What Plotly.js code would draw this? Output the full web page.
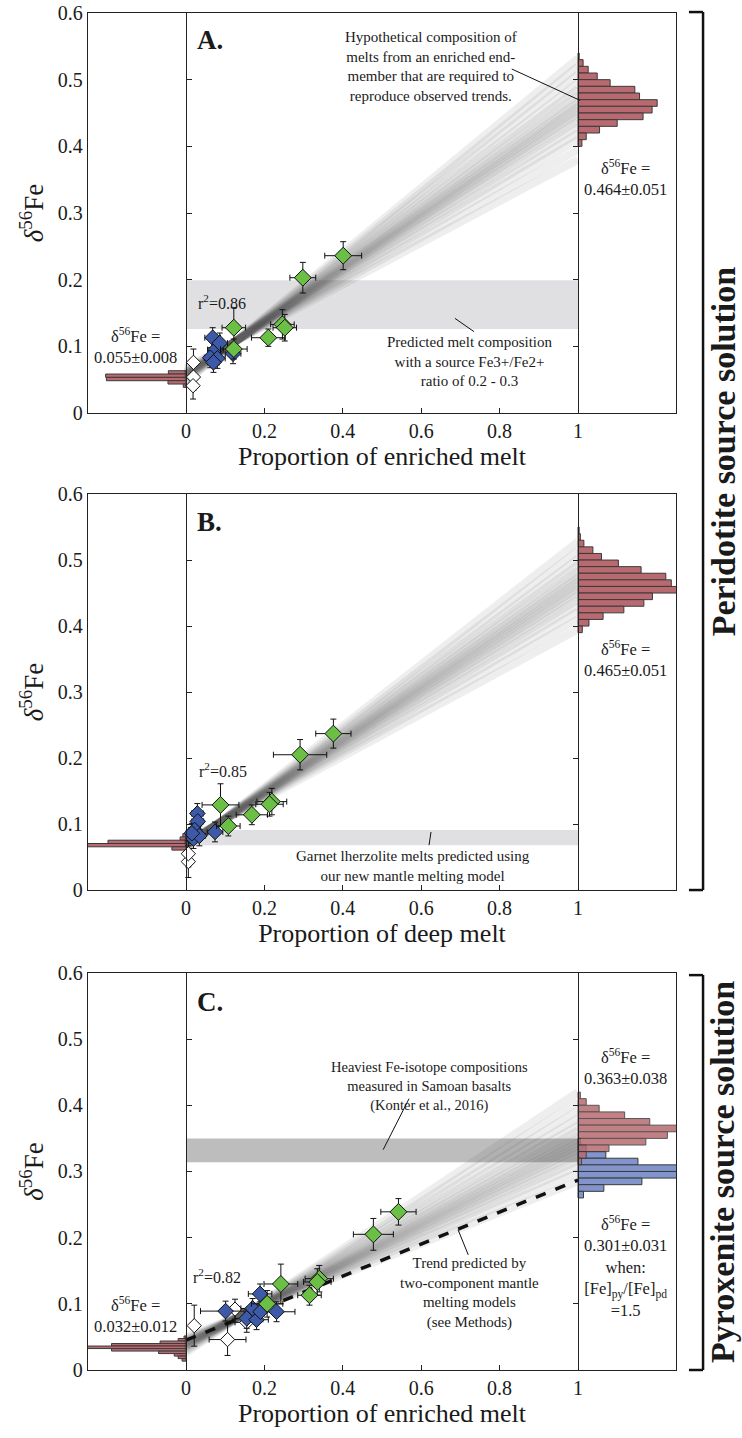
<!DOCTYPE html>
<html>
<head>
<meta charset="utf-8">
<script src="https://cdn.plot.ly/plotly-3.0.1.min.js"></script>
<style>html,body{margin:0;padding:0;background:#fff}</style>
</head>
<body>
<div id="chart" style="width:742px;height:1438px"></div>
<script>
// ---- panel A : proportion of enriched melt (peridotite source) ----
const greenA_x  = [0.401, 0.298, 0.122, 0.246, 0.252, 0.210, 0.122];
const greenA_y  = [0.236, 0.203, 0.128, 0.133, 0.128, 0.113, 0.096];
const greenA_ex = [0.047, 0.033, 0.030, 0.030, 0.030, 0.043, 0.034];
const greenA_ey = [0.021, 0.023, 0.030, 0.022, 0.020, 0.013, 0.015];
const blueA_x  = [0.068, 0.075, 0.086, 0.062, 0.080, 0.070, 0.120];
const blueA_y  = [0.113, 0.095, 0.105, 0.083, 0.082, 0.076, 0.089];
const blueA_ex = [0.020, 0.020, 0.020, 0.015, 0.020, 0.015, 0.020];
const blueA_ey = [0.015, 0.015, 0.015, 0.015, 0.015, 0.015, 0.015];
const whiteA_x  = [0.019, 0.019, 0.018];
const whiteA_y  = [0.076, 0.054, 0.041];
const whiteA_ex = [0.010, 0.010, 0.010];
const whiteA_ey = [0.020, 0.020, 0.020];
const fanA_start = [0.068, 0.066, 0.063, 0.062, 0.061, 0.060, 0.059, 0.058, 0.057, 0.057, 0.056, 0.055, 0.054, 0.053, 0.052, 0.050, 0.048, 0.047];
const fanA_end   = [0.380, 0.395, 0.410, 0.420, 0.430, 0.438, 0.445, 0.450, 0.455, 0.460, 0.465, 0.470, 0.478, 0.486, 0.495, 0.508, 0.520, 0.532];
const histA_right_y   = [0.535, 0.525, 0.515, 0.505, 0.495, 0.485, 0.475, 0.465, 0.455, 0.445, 0.435, 0.425, 0.415, 0.405];
const histA_right_len = [0.003, 0.013, 0.026, 0.049, 0.082, 0.145, 0.157, 0.202, 0.189, 0.166, 0.100, 0.055, 0.021, 0.010];
const histA_left_y   = [0.061, 0.056, 0.051, 0.046, 0.041];
const histA_left_len = [0.045, 0.205, 0.203, 0.046, 0.007];
const bandA = [0.126, 0.199];

// ---- panel B : proportion of deep melt ----
const greenB_x  = [0.376, 0.291, 0.088, 0.219, 0.213, 0.168, 0.108];
const greenB_y  = [0.237, 0.205, 0.129, 0.134, 0.130, 0.114, 0.097];
const greenB_ex = [0.045, 0.068, 0.047, 0.038, 0.035, 0.040, 0.030];
const greenB_ey = [0.022, 0.023, 0.032, 0.020, 0.018, 0.015, 0.015];
const blueB_x  = [0.029, 0.030, 0.074, 0.019, 0.022, 0.034, 0.015];
const blueB_y  = [0.116, 0.104, 0.088, 0.078, 0.091, 0.082, 0.086];
const blueB_ex = [0.015, 0.015, 0.020, 0.015, 0.015, 0.015, 0.015];
const blueB_ey = [0.015, 0.015, 0.015, 0.015, 0.015, 0.015, 0.015];
const whiteB_x  = [0.006, 0.006];
const whiteB_y  = [0.043, 0.055];
const whiteB_ex = [0.008, 0.008];
const whiteB_ey = [0.024, 0.020];
const fanB_start = [0.074, 0.073, 0.072, 0.071, 0.070, 0.070, 0.069, 0.069, 0.068, 0.068, 0.068, 0.067, 0.067, 0.066, 0.065, 0.064, 0.063];
const fanB_end   = [0.395, 0.410, 0.422, 0.432, 0.440, 0.447, 0.453, 0.458, 0.463, 0.468, 0.473, 0.478, 0.485, 0.493, 0.502, 0.514, 0.528];
const histB_right_y   = [0.545, 0.535, 0.525, 0.515, 0.505, 0.495, 0.485, 0.475, 0.465, 0.455, 0.445, 0.435, 0.425, 0.415, 0.405, 0.395];
const histB_right_len = [0.003, 0.006, 0.015, 0.038, 0.060, 0.103, 0.161, 0.224, 0.238, 0.260, 0.190, 0.168, 0.117, 0.064, 0.028, 0.011];
const histB_left_y   = [0.083, 0.078, 0.073, 0.068, 0.063];
const histB_left_len = [0.008, 0.015, 0.199, 0.260, 0.036];
const bandB = [0.068, 0.091];

// ---- panel C : proportion of enriched melt (pyroxenite source) ----
const greenC_x  = [0.542, 0.478, 0.242, 0.340, 0.335, 0.315, 0.207];
const greenC_y  = [0.239, 0.205, 0.130, 0.138, 0.133, 0.113, 0.100];
const greenC_ex = [0.045, 0.051, 0.043, 0.036, 0.035, 0.030, 0.040];
const greenC_ey = [0.020, 0.024, 0.030, 0.020, 0.020, 0.015, 0.020];
const blueC_x  = [0.101, 0.189, 0.231, 0.155, 0.180, 0.170, 0.190];
const blueC_y  = [0.089, 0.115, 0.088, 0.078, 0.076, 0.093, 0.088];
const blueC_ex = [0.064, 0.030, 0.047, 0.030, 0.030, 0.030, 0.030];
const blueC_ey = [0.015, 0.015, 0.015, 0.015, 0.015, 0.015, 0.015];
const whiteC_x  = [0.021, 0.106, 0.125, 0.155];
const whiteC_y  = [0.067, 0.046, 0.092, 0.072];
const whiteC_ex = [0.010, 0.047, 0.030, 0.030];
const whiteC_ey = [0.031, 0.024, 0.015, 0.015];
const fanC_start = [0.050, 0.047, 0.046, 0.044, 0.043, 0.042, 0.041, 0.040, 0.039, 0.038, 0.037, 0.036, 0.035, 0.033, 0.031, 0.029, 0.026];
const fanC_end   = [0.285, 0.298, 0.308, 0.316, 0.323, 0.329, 0.334, 0.339, 0.344, 0.349, 0.355, 0.362, 0.370, 0.380, 0.392, 0.405, 0.420];
const trendC_x = [0, 1];
const trendC_y = [0.045, 0.287];
const histC_red_y    = [0.415, 0.405, 0.395, 0.385, 0.375, 0.365, 0.355, 0.345, 0.335, 0.325, 0.315];
const histC_red_len  = [0.006, 0.021, 0.054, 0.119, 0.183, 0.260, 0.228, 0.173, 0.079, 0.021, 0.009];
const histC_blue_y   = [0.345, 0.335, 0.325, 0.315, 0.305, 0.295, 0.285, 0.275, 0.265];
const histC_blue_len = [0.006, 0.021, 0.071, 0.153, 0.260, 0.260, 0.163, 0.066, 0.014];
const histC_left_y   = [0.0495, 0.0457, 0.0419, 0.0381, 0.0343, 0.0305, 0.0267, 0.0229, 0.0191, 0.0153];
const histC_left_len = [0.005, 0.020, 0.066, 0.190, 0.260, 0.190, 0.070, 0.030, 0.020, 0.010];
const bandC = [0.314, 0.350];

const xTickVals = [0, 0.2, 0.4, 0.6, 0.8, 1];
const xTickText = ['0', '0.2', '0.4', '0.6', '0.8', '1'];
const yTickVals = [0, 0.1, 0.2, 0.3, 0.4, 0.5, 0.6];
const yTickText = ['0', '0.1', '0.2', '0.3', '0.4', '0.5', '0.6'];

const SERIF = "'Liberation Serif', 'Times New Roman', serif";
const RED = '#b86a70';
const BLUE = '#8195cc';
const GREEN = '#6cbf45';
const DBLUE = '#3c5aa8';

let traces = [];

function fan(xa, ya, starts, ends) {
    for (let i = 0; i < starts.length; ++i) {
        traces.push({
            type: 'scatter', mode: 'lines', x: [0, 1], y: [starts[i], ends[i]],
            xaxis: xa, yaxis: ya, line: {color: 'rgba(60,60,60,0.085)', width: 8},
            hoverinfo: 'skip', showlegend: false
        });
    }
}

function hbars(xa, ya, ys, lens, base, sign, color, width, opacity) {
    traces.push({
        type: 'bar', orientation: 'h', y: ys, x: lens.map(v => sign * v), base: base,
        width: width, opacity: opacity,
        marker: {color: color, line: {color: '#3a3a3a', width: 1}},
        xaxis: xa, yaxis: ya, hoverinfo: 'skip', showlegend: false
    });
}

function points(xa, ya, xs, ys, ex, ey, fill, size) {
    traces.push({
        type: 'scatter', mode: 'markers', x: xs, y: ys, xaxis: xa, yaxis: ya,
        marker: {symbol: 'diamond', size: size, color: fill, line: {color: '#111', width: 1}},
        error_x: {type: 'data', array: ex, color: '#111', thickness: 1, width: 3},
        error_y: {type: 'data', array: ey, color: '#111', thickness: 1, width: 3},
        hoverinfo: 'skip', showlegend: false
    });
}

// panel A
fan('x', 'y', fanA_start, fanA_end);
hbars('x', 'y', histA_right_y, histA_right_len, 1, 1, RED, 0.01, 1);
hbars('x', 'y', histA_left_y, histA_left_len, 0, -1, RED, 0.005, 1);
points('x', 'y', whiteA_x, whiteA_y, whiteA_ex, whiteA_ey, '#fff', 11);
points('x', 'y', blueA_x, blueA_y, blueA_ex, blueA_ey, DBLUE, 12);
points('x', 'y', greenA_x, greenA_y, greenA_ex, greenA_ey, GREEN, 13);

// panel B
fan('x2', 'y2', fanB_start, fanB_end);
hbars('x2', 'y2', histB_right_y, histB_right_len, 1, 1, RED, 0.01, 1);
hbars('x2', 'y2', histB_left_y, histB_left_len, 0, -1, RED, 0.005, 1);
points('x2', 'y2', whiteB_x, whiteB_y, whiteB_ex, whiteB_ey, '#fff', 11);
points('x2', 'y2', blueB_x, blueB_y, blueB_ex, blueB_ey, DBLUE, 12);
points('x2', 'y2', greenB_x, greenB_y, greenB_ex, greenB_ey, GREEN, 13);

// panel C
fan('x3', 'y3', fanC_start, fanC_end);
hbars('x3', 'y3', histC_blue_y, histC_blue_len, 1, 1, BLUE, 0.01, 1);
hbars('x3', 'y3', histC_red_y, histC_red_len, 1, 1, RED, 0.01, 0.85);
hbars('x3', 'y3', histC_left_y, histC_left_len, 0, -1, RED, 0.0038, 1);
traces.push({
    type: 'scatter', mode: 'lines', x: trendC_x, y: trendC_y, xaxis: 'x3', yaxis: 'y3',
    line: {color: '#111', width: 3.5, dash: 'dash'}, hoverinfo: 'skip', showlegend: false
});
points('x3', 'y3', whiteC_x, whiteC_y, whiteC_ex, whiteC_ey, '#fff', 11);
points('x3', 'y3', blueC_x, blueC_y, blueC_ex, blueC_ey, DBLUE, 12);
points('x3', 'y3', greenC_x, greenC_y, greenC_ex, greenC_ey, GREEN, 13);

// empty traces so the inner axes at x=0 and x=1 get drawn
['y4', 'y5'].forEach(a => traces.push({type: 'scatter', x: [], y: [], xaxis: 'x', yaxis: a, showlegend: false}));
['y6', 'y7'].forEach(a => traces.push({type: 'scatter', x: [], y: [], xaxis: 'x2', yaxis: a, showlegend: false}));
['y8', 'y9'].forEach(a => traces.push({type: 'scatter', x: [], y: [], xaxis: 'x3', yaxis: a, showlegend: false}));

function xAxis(anchor, title) {
    return {
        anchor: anchor, domain: [0, 1], range: [-0.25, 1.25],
        tickvals: xTickVals, ticktext: xTickText, ticks: 'inside', ticklen: 5, tickcolor: '#222',
        showline: true, mirror: true, linecolor: '#222', linewidth: 1.2,
        showgrid: false, zeroline: false, tickfont: {size: 20},
        title: {text: title, font: {size: 26}, standoff: 0}
    };
}

function yAxis(anchor, domain) {
    return {
        anchor: anchor, domain: domain, range: [0, 0.6],
        tickvals: yTickVals, ticktext: yTickText, ticks: '',
        showline: true, mirror: true, linecolor: '#222', linewidth: 1.2,
        showgrid: false, zeroline: false, tickfont: {size: 20},
        title: {text: '<i>δ</i><sup>56</sup>Fe', font: {size: 27}, standoff: 6}
    };
}

function innerAxis(over, side, pos) {
    return {
        overlaying: over, anchor: 'free', position: pos, side: side, range: [0, 0.6],
        tickvals: yTickVals, ticks: 'inside', ticklen: 5, tickcolor: '#222',
        showticklabels: false, showline: true, linecolor: '#222', linewidth: 1.2,
        showgrid: false, zeroline: false
    };
}

function note(xa, ya, x, y, text, size, extra) {
    return Object.assign({
        xref: xa, yref: ya, x: x, y: y, text: text, showarrow: false,
        xanchor: 'center', yanchor: 'middle',
        font: {size: size, color: '#1a1a1a'}, align: 'center'
    }, extra || {});
}

function band(xa, ya, yy, color) {
    return {type: 'rect', xref: xa, yref: ya, x0: 0, x1: 1, y0: yy[0], y1: yy[1],
            fillcolor: color, line: {width: 0}, layer: 'below'};
}

function pointer(xa, ya, x0, y0, x1, y1) {
    return {type: 'line', xref: xa, yref: ya, x0: x0, y0: y0, x1: x1, y1: y1,
            line: {color: '#111', width: 1}};
}

function bracket(yBottom, yTop) {
    return [
        {type: 'line', xref: 'paper', yref: 'paper', x0: 1.046, x1: 1.046, y0: yBottom, y1: yTop, line: {color: '#111', width: 2.5}},
        {type: 'line', xref: 'paper', yref: 'paper', x0: 1.022, x1: 1.046, y0: yTop, y1: yTop, line: {color: '#111', width: 2.5}},
        {type: 'line', xref: 'paper', yref: 'paper', x0: 1.022, x1: 1.046, y0: yBottom, y1: yBottom, line: {color: '#111', width: 2.5}}
    ];
}

const dA = [0.7052, 1.0];
const dB = [0.3537, 0.6455];
const dC = [0.0, 0.2926];

const layout = {
    width: 742, height: 1438,
    margin: {l: 88, r: 66, t: 13, b: 68},
    paper_bgcolor: '#fff', plot_bgcolor: '#fff',
    font: {family: SERIF, color: '#1a1a1a'},
    barmode: 'overlay', showlegend: false,
    xaxis: xAxis('y', 'Proportion of enriched melt'),
    yaxis: yAxis('x', dA),
    xaxis2: xAxis('y2', 'Proportion of deep melt'),
    yaxis2: yAxis('x2', dB),
    xaxis3: xAxis('y3', 'Proportion of enriched melt'),
    yaxis3: yAxis('x3', dC),
    yaxis4: innerAxis('y', 'left', 1 / 6),
    yaxis5: innerAxis('y', 'right', 5 / 6),
    yaxis6: innerAxis('y2', 'left', 1 / 6),
    yaxis7: innerAxis('y2', 'right', 5 / 6),
    yaxis8: innerAxis('y3', 'left', 1 / 6),
    yaxis9: innerAxis('y3', 'right', 5 / 6),
    shapes: [
        band('x', 'y', bandA, '#e0e0e2'),
        band('x2', 'y2', bandB, '#e0e0e2'),
        band('x3', 'y3', bandC, '#bdbdbd'),
        pointer('x', 'y', 0.831, 0.516, 1.005, 0.469),
        pointer('x', 'y', 0.686, 0.142, 0.735, 0.122),
        pointer('x2', 'y2', 0.625, 0.088, 0.620, 0.068),
        pointer('x3', 'y3', 0.569, 0.410, 0.503, 0.333),
        pointer('x3', 'y3', 0.694, 0.212, 0.720, 0.174)
    ].concat(bracket(0.3537, 1.0007), bracket(0.0, 0.291)),
    annotations: [
        note('x', 'y', 0.022, 0.56, '<b>A.</b>', 27, {xanchor: 'left'}),
        note('x', 'y', 0.625, 0.52, 'Hypothetical composition of<br>melts from an enriched end-<br>member that are required to<br>reproduce observed trends.', 15),
        note('x', 'y', 0.092, 0.166, 'r<sup>2</sup>=0.86', 16),
        note('x', 'y', -0.13, 0.101, 'δ<sup>56</sup>Fe =<br>0.055±0.008', 16.5),
        note('x', 'y', 0.724, 0.077, 'Predicted melt composition<br>with a source Fe3+/Fe2+<br>ratio of 0.2 - 0.3', 15),
        note('x', 'y', 1.122, 0.352, 'δ<sup>56</sup>Fe =<br>0.464±0.051', 16.5),

        note('x2', 'y2', 0.022, 0.557, '<b>B.</b>', 27, {xanchor: 'left'}),
        note('x2', 'y2', 0.095, 0.182, 'r<sup>2</sup>=0.85', 16),
        note('x2', 'y2', 1.122, 0.35, 'δ<sup>56</sup>Fe =<br>0.465±0.051', 16.5),
        note('x2', 'y2', 0.58, 0.036, 'Garnet lherzolite melts predicted using<br>our new mantle melting model', 15),

        note('x3', 'y3', 0.022, 0.556, '<b>C.</b>', 27, {xanchor: 'left'}),
        note('x3', 'y3', 0.622, 0.429, 'Heaviest Fe-isotope compositions<br>measured in Samoan basalts<br>(Konter et al., 2016)', 14.5),
        note('x3', 'y3', 1.122, 0.458, 'δ<sup>56</sup>Fe =<br>0.363±0.038', 16.5),
        note('x3', 'y3', 1.122, 0.156, 'δ<sup>56</sup>Fe =<br>0.301±0.031<br>when:<br>[Fe]<sub>py</sub>/[Fe]<sub>pd</sub><br>=1.5', 16.5),
        note('x3', 'y3', 0.078, 0.142, 'r<sup>2</sup>=0.82', 16),
        note('x3', 'y3', -0.13, 0.083, 'δ<sup>56</sup>Fe =<br>0.032±0.012', 16.5),
        note('x3', 'y3', 0.724, 0.117, 'Trend predicted by<br>two-component mantle<br>melting models<br>(see Methods)', 15),

        note('paper', 'paper', 1.080, 0.677, '<b>Peridotite source solution</b>', 34, {textangle: -90}),
        note('paper', 'paper', 1.080, 0.146, '<b>Pyroxenite source solution</b>', 34, {textangle: -90})
    ]
};

Plotly.newPlot('chart', traces, layout, {staticPlot: true, displayModeBar: false});
</script>
</body>
</html>
